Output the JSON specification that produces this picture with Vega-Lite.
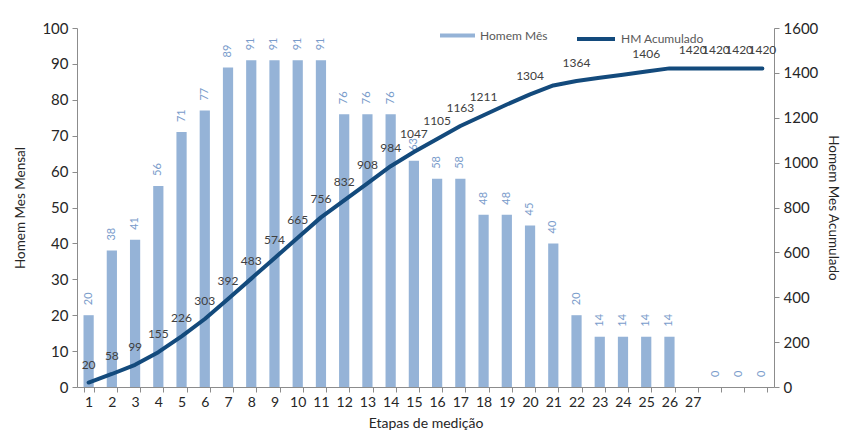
{
  "$schema": "https://vega.github.io/schema/vega-lite/v6.json",
  "width": 697,
  "height": 359,
  "autosize": {"type": "none"},
  "padding": {"left": 77, "top": 28, "right": 71, "bottom": 56},
  "background": "white",
  "config": {
    "font": "Lato",
    "view": {"stroke": null},
    "axis": {
      "grid": false,
      "domainColor": "#8c8c8c",
      "tickColor": "#8c8c8c",
      "labelColor": "#262626",
      "titleColor": "#262626",
      "titleFontWeight": "normal",
      "labelFont": "Lato",
      "titleFont": "Lato"
    }
  },
  "data": {
    "values": [
      {"etapa": 1, "mes": 20, "acum": 20, "rot": 20},
      {"etapa": 2, "mes": 38, "acum": 58, "rot": 58},
      {"etapa": 3, "mes": 41, "acum": 99, "rot": 99},
      {"etapa": 4, "mes": 56, "acum": 155, "rot": 155},
      {"etapa": 5, "mes": 71, "acum": 226, "rot": 226},
      {"etapa": 6, "mes": 77, "acum": 303, "rot": 303},
      {"etapa": 7, "mes": 89, "acum": 392, "rot": 392},
      {"etapa": 8, "mes": 91, "acum": 483, "rot": 483},
      {"etapa": 9, "mes": 91, "acum": 574, "rot": 574},
      {"etapa": 10, "mes": 91, "acum": 665, "rot": 665},
      {"etapa": 11, "mes": 91, "acum": 756, "rot": 756},
      {"etapa": 12, "mes": 76, "acum": 832, "rot": 832},
      {"etapa": 13, "mes": 76, "acum": 908, "rot": 908},
      {"etapa": 14, "mes": 76, "acum": 984, "rot": 984},
      {"etapa": 15, "mes": 63, "acum": 1047, "rot": 1047},
      {"etapa": 16, "mes": 58, "acum": 1105, "rot": 1105},
      {"etapa": 17, "mes": 58, "acum": 1163, "rot": 1163},
      {"etapa": 18, "mes": 48, "acum": 1211, "rot": 1211},
      {"etapa": 19, "mes": 48, "acum": 1259, "rot": null},
      {"etapa": 20, "mes": 45, "acum": 1304, "rot": 1304},
      {"etapa": 21, "mes": 40, "acum": 1344, "rot": null},
      {"etapa": 22, "mes": 20, "acum": 1364, "rot": 1364},
      {"etapa": 23, "mes": 14, "acum": 1378, "rot": null},
      {"etapa": 24, "mes": 14, "acum": 1392, "rot": null},
      {"etapa": 25, "mes": 14, "acum": 1406, "rot": 1406},
      {"etapa": 26, "mes": 14, "acum": 1420, "rot": null},
      {"etapa": 27, "mes": null, "acum": 1420, "rot": 1420},
      {"etapa": 28, "mes": 0, "acum": 1420, "rot": 1420},
      {"etapa": 29, "mes": 0, "acum": 1420, "rot": 1420},
      {"etapa": 30, "mes": 0, "acum": 1420, "rot": 1420}
    ]
  },
  "encoding": {
    "x": {
      "field": "etapa",
      "type": "ordinal",
      "scale": {"paddingInner": 0.56, "paddingOuter": 0.28},
      "axis": {
        "title": "Etapas de medição",
        "labelAngle": 0,
        "labelExpr": "datum.value > 27 ? '' : datum.label",
        "tickBand": "extent",
        "tickSize": 5,
        "labelFontSize": 14,
        "labelPadding": 3,
        "titleFontSize": 14,
        "titlePadding": 7
      }
    }
  },
  "layer": [
    {
      "transform": [{"filter": "datum.mes != null"}],
      "encoding": {
        "y": {
          "field": "mes",
          "type": "quantitative",
          "scale": {"domain": [0, 100]},
          "axis": {
            "orient": "left",
            "title": "Homem Mes Mensal",
            "values": [0, 10, 20, 30, 40, 50, 60, 70, 80, 90, 100],
            "labelOverlap": false,
            "tickSize": 5,
            "labelFontSize": 15,
            "labelPadding": 4,
            "titleFontSize": 13.5,
            "titlePadding": 14
          }
        }
      },
      "layer": [
        {
          "mark": {"type": "bar"},
          "encoding": {
            "fill": {
              "datum": "Homem Mês",
              "type": "nominal",
              "scale": {"range": ["#95B3D7"]},
              "legend": {
                "orient": "none",
                "legendX": 363,
                "legendY": -10,
                "title": null,
                "symbolType": "M-1,-0.12H1V0.12H-1Z",
                "symbolSize": 1225,
                "symbolStrokeWidth": 0,
                "labelFontSize": 12,
                "labelColor": "#595959",
                "labelOffset": 5
              }
            }
          }
        },
        {
          "mark": {"type": "text", "angle": 270, "align": "left", "baseline": "middle", "dx": 10, "fontSize": 11, "color": "#7A9CCB"},
          "encoding": {
            "text": {"field": "mes", "type": "quantitative"}
          }
        }
      ]
    },
    {
      "encoding": {
        "y": {
          "field": "acum",
          "type": "quantitative",
          "scale": {"domain": [0, 1600]},
          "axis": {
            "orient": "right",
            "title": "Homem Mes Acumulado",
            "values": [0, 200, 400, 600, 800, 1000, 1200, 1400, 1600],
            "format": "d",
            "labelOverlap": false,
            "tickSize": 5,
            "labelFontSize": 15,
            "labelPadding": 4,
            "titleFontSize": 13.5,
            "titlePadding": 8
          }
        }
      },
      "layer": [
        {
          "mark": {"type": "line", "strokeWidth": 4, "strokeCap": "round", "strokeJoin": "round"},
          "encoding": {
            "stroke": {
              "datum": "HM Acumulado",
              "type": "nominal",
              "scale": {"range": ["#134A7C"]},
              "legend": {
                "orient": "none",
                "legendX": 498,
                "legendY": -10,
                "title": null,
                "symbolType": "stroke",
                "symbolSize": 1444,
                "symbolStrokeWidth": 4,
                "labelFontSize": 12,
                "labelColor": "#595959",
                "labelOffset": 4
              }
            }
          }
        },
        {
          "mark": {"type": "text", "align": "center", "baseline": "middle", "dy": -18, "fontSize": 12, "color": "#404040"},
          "transform": [{"filter": "datum.rot != null"}],
          "encoding": {
            "text": {"field": "rot", "type": "quantitative"}
          }
        }
      ]
    }
  ],
  "resolve": {"scale": {"y": "independent"}}
}
